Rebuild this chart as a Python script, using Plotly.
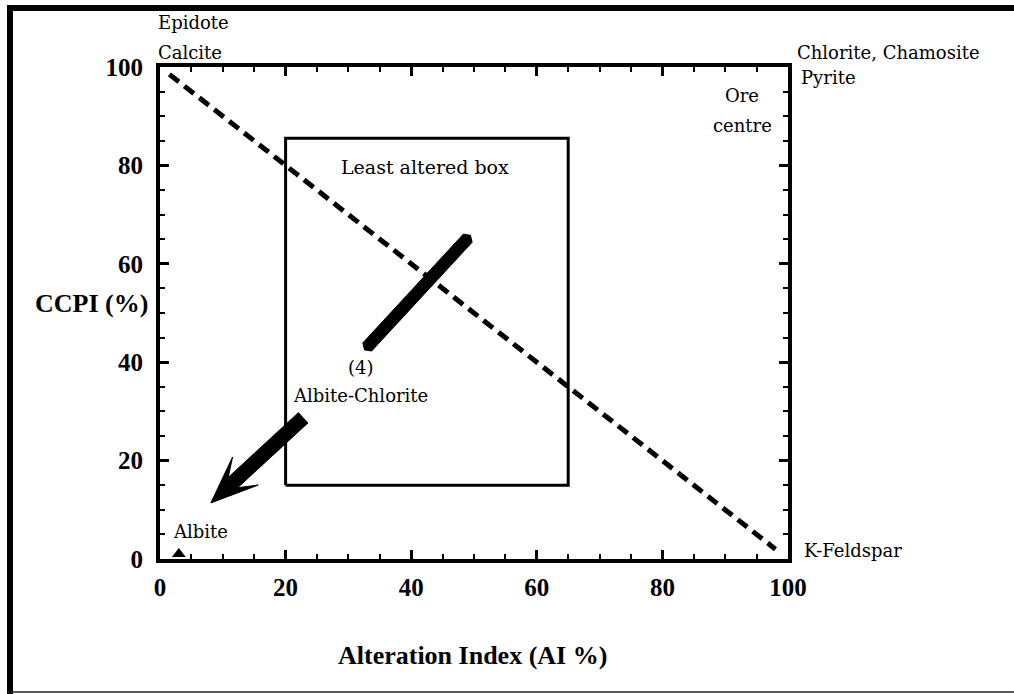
import numpy as np
import plotly.graph_objects as go

# ---------------- data ----------------
ai_range = [0, 100]
ccpi_range = [0, 100]
tick_vals = [0, 20, 40, 60, 80, 100]
tick_text = ["0", "20", "40", "60", "80", "100"]

# dashed diagonal (CCPI = 100 - AI)
diag_ai = [1.5, 98.0]
diag_ccpi = [98.5, 2.0]

# least altered box corners
box_ai = [20, 65]
box_ccpi = [15, 85.5]

# trend (4) bar end points
trend_ai = [33.0, 49.0]
trend_ccpi = [43.1, 65.2]

# Albite-Chlorite arrow: tail -> tip
arrow_ai = [22.8, 8.1]
arrow_ccpi = [28.7, 11.4]

# Albite point
albite_ai = [3.0]
albite_ccpi = [1.0]

# labels (positions in axis units)
label_text = ["Epidote", "Calcite", "Chlorite, Chamosite", "Pyrite", "Ore", "centre",
              "Least altered box", "(4)", "Albite-Chlorite", "Albite", "K-Feldspar"]
label_ai = [-0.6, -0.6, 101.1, 101.8, 92.7, 92.8, 42.2, 32.0, 32.0, 6.4, 102.2]
label_ccpi = [109.1, 103.0, 103.0, 97.8, 94.3, 88.2, 79.7, 39.0, 33.3, 5.5, 1.8]
label_anchor = ["left", "left", "left", "left", "center", "center", "center", "center",
                "center", "center", "left"]

x_title = "Alteration Index (AI %)"
y_title = "CCPI (%)"
x_title_pos = [49.7, -19.7]
y_title_pos = [-10.9, 52.0]

# ---------------- layout geometry ----------------
W, H = 1014, 694
ML, MR, MT, MB = 160, 226, 67, 135
PW, PH = W - ML - MR, H - MT - MB

def to_px(x, y):
    return ML + (x - ai_range[0]) / (ai_range[1] - ai_range[0]) * PW, \
           MT + PH - (y - ccpi_range[0]) / (ccpi_range[1] - ccpi_range[0]) * PH

def to_data(px, py):
    return ai_range[0] + (px - ML) / PW * (ai_range[1] - ai_range[0]), \
           ccpi_range[0] + (MT + PH - py) / PH * (ccpi_range[1] - ccpi_range[0])

def dx_paper(x):
    return (x - ai_range[0]) / (ai_range[1] - ai_range[0])

def dy_paper(y):
    return (y - ccpi_range[0]) / (ccpi_range[1] - ccpi_range[0])

def pxp(px):
    return (px - ML) / PW

def pyp(py):
    return (MT + PH - py) / PH

fig = go.Figure()

# dashed line
fig.add_trace(go.Scatter(x=diag_ai, y=diag_ccpi, mode="lines",
                         line=dict(color="black", width=5, dash="12px,7px"),
                         hoverinfo="skip", showlegend=False))

# least altered box
fig.add_trace(go.Scatter(x=[box_ai[0], box_ai[1], box_ai[1], box_ai[0], box_ai[0]],
                         y=[box_ccpi[0], box_ccpi[0], box_ccpi[1], box_ccpi[1], box_ccpi[0]],
                         mode="lines", line=dict(color="black", width=3),
                         hoverinfo="skip", showlegend=False))

# trend bar (4) as a tapered polygon in pixel space
a = np.array(to_px(trend_ai[0], trend_ccpi[0]))
b = np.array(to_px(trend_ai[1], trend_ccpi[1]))
d = (b - a) / np.linalg.norm(b - a)
n = np.array([-d[1], d[0]])
hw = 6.0
pts = [a - d * 4, a + n * hw, b + n * hw, b + d * 4, b - n * hw, a - n * hw, a - d * 4]
bx, by = zip(*[to_data(p[0], p[1]) for p in pts])
fig.add_trace(go.Scatter(x=list(bx), y=list(by), mode="lines", fill="toself",
                         fillcolor="black", line=dict(color="black", width=1),
                         hoverinfo="skip", showlegend=False))

# Albite-Chlorite arrow polygon
t = np.array(to_px(arrow_ai[0], arrow_ccpi[0]))
tip = np.array(to_px(arrow_ai[1], arrow_ccpi[1]))
d = (tip - t) / np.linalg.norm(tip - t)
n = np.array([-d[1], d[0]])
sw, hwid, neck, barb = 7.0, 19.0, 30.0, 47.0
apts = [tip,
        tip - d * barb + n * hwid,
        tip - d * neck + n * sw,
        t + n * sw,
        t - n * sw,
        tip - d * neck - n * sw,
        tip - d * barb - n * hwid,
        tip]
ax_, ay_ = zip(*[to_data(p[0], p[1]) for p in apts])
fig.add_trace(go.Scatter(x=list(ax_), y=list(ay_), mode="lines", fill="toself",
                         fillcolor="black", line=dict(color="black", width=1),
                         hoverinfo="skip", showlegend=False))

# Albite marker
fig.add_trace(go.Scatter(x=albite_ai, y=albite_ccpi, mode="markers",
                         marker=dict(symbol="triangle-up", size=12, color="black"),
                         hoverinfo="skip", showlegend=False, cliponaxis=False))

axis_common = dict(
    showgrid=False, zeroline=False, showline=True, linecolor="black", linewidth=4,
    mirror="ticks", ticks="inside", ticklen=9, tickwidth=3, tickcolor="black",
    tickvals=tick_vals, ticktext=tick_text,
    tickfont=dict(family="Liberation Serif", size=25, color="black", weight="bold"),
    minor=dict(dtick=5, ticks="inside", ticklen=5, tickwidth=2, tickcolor="black", showgrid=False),
    fixedrange=True,
)
fig.update_xaxes(range=ai_range, ticklabelstandoff=3, **axis_common)
fig.update_yaxes(range=ccpi_range, ticklabelstandoff=8, **axis_common)

annotations = []
for txt, x, y, anc in zip(label_text, label_ai, label_ccpi, label_anchor):
    annotations.append(dict(x=dx_paper(x), y=dy_paper(y), xref="paper", yref="paper", text=txt,
                            showarrow=False, xanchor=anc, yanchor="middle",
                            font=dict(family="DejaVu Serif", size=19 if txt == "Least altered box" else 18,
                                      color="black")))
annotations.append(dict(x=dx_paper(y_title_pos[0]), y=dy_paper(y_title_pos[1]), xref="paper", yref="paper",
                        text=y_title, showarrow=False, xanchor="center", yanchor="middle",
                        font=dict(family="Liberation Serif", size=26, color="black", weight="bold")))
annotations.append(dict(x=dx_paper(x_title_pos[0]), y=dy_paper(x_title_pos[1]), xref="paper", yref="paper",
                        text=x_title, showarrow=False, xanchor="center", yanchor="middle",
                        font=dict(family="Liberation Serif", size=26, color="black", weight="bold")))

# outer frame (decoration)
shapes = [
    dict(type="rect", xref="paper", yref="paper", x0=pxp(7), x1=pxp(13), y0=pyp(5), y1=pyp(694),
         fillcolor="black", line=dict(width=0)),
    dict(type="rect", xref="paper", yref="paper", x0=pxp(7), x1=pxp(1014), y0=pyp(5), y1=pyp(11),
         fillcolor="black", line=dict(width=0)),
    dict(type="line", xref="paper", yref="paper", x0=pxp(7), x1=pxp(1014), y0=pyp(692), y1=pyp(692),
         line=dict(color="#222", width=1.5)),
]

fig.update_layout(
    width=W, height=H, margin=dict(l=ML, r=MR, t=MT, b=MB),
    plot_bgcolor="white", paper_bgcolor="white",
    annotations=annotations, shapes=shapes, showlegend=False,
)

fig.write_html("out.html", config={"displayModeBar": False, "staticPlot": True},
               post_script="document.body.style.margin='0';document.body.style.overflow='hidden';")
